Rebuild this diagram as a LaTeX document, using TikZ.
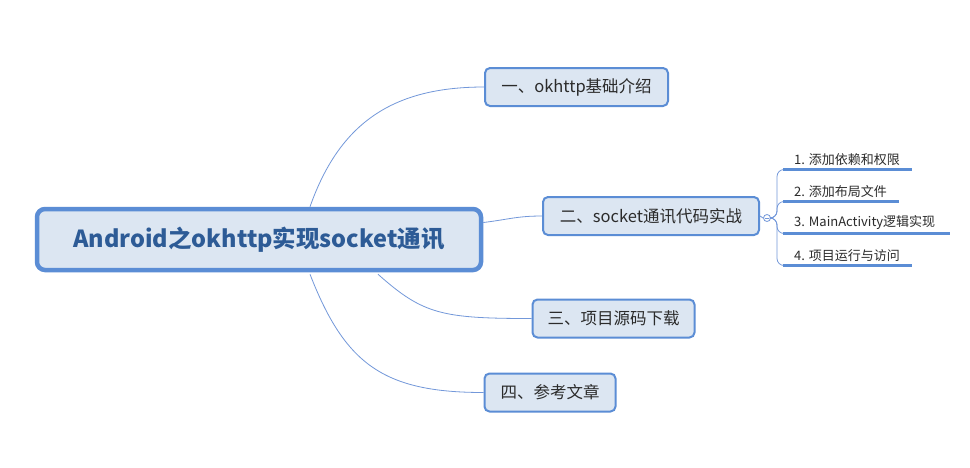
\documentclass[tikz,border=0pt]{standalone}
\usepackage{fontspec}
\setmainfont{Noto Sans CJK SC}
\usetikzlibrary{calc}
\definecolor{bord}{HTML}{5B8DD5}
\definecolor{boxfill}{HTML}{DCE6F2}
\definecolor{wire}{HTML}{7398DA}
\definecolor{roottext}{HTML}{2D5B96}
\definecolor{btext}{HTML}{2B2B2B}
\tikzset{
  rootbox/.style={draw=bord, line width=4.5pt, fill=boxfill, rounded corners=8pt,
    minimum width=444pt, minimum height=61pt, inner sep=0pt,
    font=\fontsize{23.5}{28}\selectfont\bfseries, text=roottext},
  branchbox/.style={draw=bord, line width=2pt, fill=boxfill, rounded corners=5pt,
    minimum height=38pt, inner sep=0pt, font=\fontsize{16.5}{20}\selectfont, text=btext},
  subtext/.style={anchor=south west, inner sep=0pt, font=\fontsize{13}{16}\selectfont, text=btext},
  wireline/.style={draw=wire, line width=0.8pt},
  uline/.style={draw=bord, line width=2.6pt},
}
\begin{document}
\begin{tikzpicture}[x=1pt,y=-1pt]
\useasboundingbox[fill=white] (0,0) rectangle (970,467);

\node[rootbox] (root) at (259,239.5) {Android之okhttp实现socket通讯};
\node[branchbox, minimum width=183pt] (b1) at (576.5,87) {一、okhttp基础介绍};
\node[branchbox, minimum width=216pt] (b2) at (651,216) {二、socket通讯代码实战};
\node[branchbox, minimum width=162pt] (b3) at (613.5,318.5) {三、项目源码下载};
\node[branchbox, minimum width=131pt] (b4) at (550,392.5) {四、参考文章};

\coordinate (r1) at ([xshift=51pt]root.north);
\coordinate (r2) at ([yshift=17pt]root.east);
\coordinate (r3) at ([xshift=119pt,yshift=-2pt]root.south);
\coordinate (r4) at ([xshift=51pt,yshift=-2pt]root.south);

\draw[wireline] (r1) .. controls ($(r1)+(30,-85)$) and ($(b1.west)+(-90,0)$) .. (b1.west);
\draw[wireline] (r2) .. controls ($(r2)+(25,-3)$) and ($(b2.west)+(-25,0)$) .. (b2.west);
\draw[wireline] (r3) .. controls ($(r3)+(45,40)$) and ($(b3.west)+(-90,0)$) .. (b3.west);
\draw[wireline] (r4) .. controls ($(r4)+(35,90)$) and ($(b4.west)+(-100,0)$) .. (b4.west);

% sub topics
\node[draw=wire, line width=0.8pt, fill=white, circle, minimum size=7pt, inner sep=0pt] (c) at (767,218) {};
\draw[draw=wire, line width=0.8pt] ([xshift=-2pt]c.center) -- ([xshift=2pt]c.center);
\draw[wireline] (b2.east) -- (c.west);

\node[subtext] (s1) at (794,166) {1. 添加依赖和权限};
\node[subtext] (s2) at (794,198) {2. 添加布局文件};
\node[subtext] (s3) at (794,230) {3. MainActivity逻辑实现};
\node[subtext] (s4) at (794,262) {4. 项目运行与访问};

\coordinate (u1) at (912,169.5);
\coordinate (u2) at (899,201.5);
\coordinate (u3) at (950,233.5);
\coordinate (u4) at (912,265.5);

\foreach \u/\y in {u1/169.5,u2/201.5,u3/233.5,u4/265.5}{
  \draw[wireline, rounded corners=7pt] (c.east) -- (777,218) -- (777,\y) -- (786,\y);
  \draw[uline] (783,\y) -- (\u);
}
\end{tikzpicture}
\end{document}
